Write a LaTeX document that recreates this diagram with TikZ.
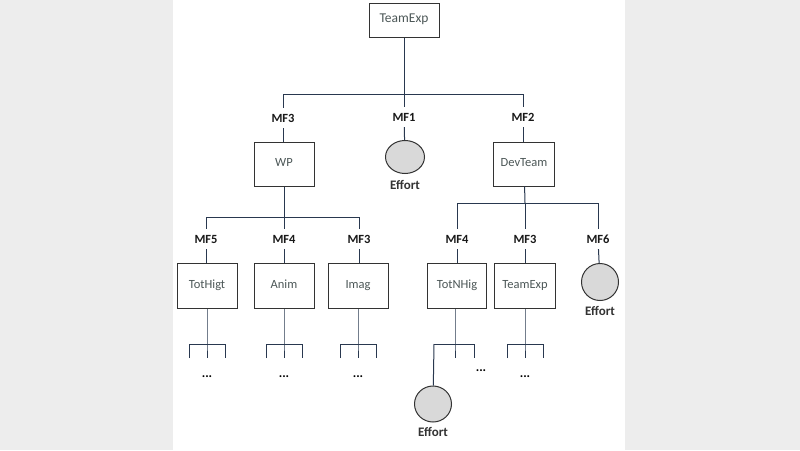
\documentclass[tikz,border=0pt]{standalone}
\usepackage{fontspec}
\setmainfont{Carlito}
\usepackage{xcolor}
\usepackage{tikz}
\usetikzlibrary{positioning}
\usetikzlibrary{shapes.geometric}
\definecolor{trait}{rgb}{0.16,0.22,0.31}
\definecolor{bord}{rgb}{0.2,0.2,0.2}
\definecolor{texte}{rgb}{0.3,0.34,0.34}
\definecolor{gris}{rgb}{0.85,0.85,0.85}
\definecolor{fond}{rgb}{0.93,0.93,0.93}

\begin{document}
\begin{tikzpicture}[x=1pt,y=-1pt,
    boite/.style={draw=bord, line width=1pt, minimum width=60pt, minimum height=45pt, inner sep=0pt, text=texte, text height=1.6ex, text depth=0.4ex, font=\fontsize{12.5}{14}\selectfont},
    rond/.style={ellipse, draw=bord, fill=gris, line width=1pt, minimum width=37pt, minimum height=37pt, inner sep=0pt},
    mf/.style={inner sep=0pt, minimum height=20pt, text=black!90, font=\bfseries\fontsize{12.5}{14}\selectfont},
    eff/.style={inner sep=0pt, text=black!80, font=\bfseries\fontsize{13}{15}\selectfont},
    pts/.style={inner sep=0pt, font=\bfseries\fontsize{13}{15}\selectfont},
    lien/.style={draw=trait, line width=1pt}]
    % Fond
    \fill[fond] (0,0) rectangle (800,450);
    \fill[white] (173,0) rectangle (625,450);
    \useasboundingbox (0,0) rectangle (800,450);

    % Niveau 1
    \node[boite, minimum width=70pt, minimum height=34pt, font=\fontsize{13.5}{15}\selectfont] (teamexp) at (404,20) {TeamExp};
    \coordinate (B1) at (404,94);
    \coordinate (B1g) at (283,94);
    \coordinate (B1d) at (523,94);

    % Etiquettes MF du niveau 2
    \node[mf] (mf3a) at (283,118) {MF3};
    \node[mf] (mf1) at (404,117) {MF1};
    \node[mf] (mf2) at (523,117) {MF2};

    % Niveau 2
    \node[boite, minimum height=44pt] (wp) at (284,164) {WP};
    \node[rond, minimum width=39pt, minimum height=33pt] (eff1) at (405,157) {};
    \node[eff, below=6pt of eff1] (leff1) {Effort};
    \node[boite, minimum width=61pt, minimum height=44pt] (devteam) at (524,164) {DevTeam};

    \draw[lien] (teamexp) -- (mf1);
    \draw[lien] (B1g) -- (B1d);
    \draw[lien] (B1g) -- (mf3a);
    \draw[lien] (B1d) -- (mf2);
    \draw[lien] (mf3a) -- (mf3a |- wp.north);
    \draw[lien] (mf1) -- (eff1);
    \draw[lien] (mf2) -- (mf2 |- devteam.north);

    % Sous WP
    \coordinate (B2) at (284,217);
    \coordinate (B2g) at (206,217);
    \coordinate (B2d) at (359,217);
    \node[mf] (mf5) at (206,239) {MF5};
    \node[mf] (mf4a) at (284,239) {MF4};
    \node[mf] (mf3b) at (359,239) {MF3};
    \node[boite] (tothigt) at (207,286) {TotHigt};
    \node[boite] (anim) at (284,286) {Anim};
    \node[boite] (imag) at (358,286) {Imag};
    \draw[lien] (wp) -- (B2);
    \draw[lien] (B2g) -- (B2d);
    \foreach \m/\b in {mf5/tothigt, mf4a/anim, mf3b/imag} {
        \draw[lien] (\m |- B2) -- (\m);
        \draw[lien] (\m) -- (\m |- \b.north);
    }

    % Sous DevTeam
    \coordinate (B3) at (525,203);
    \coordinate (B3g) at (457,203);
    \coordinate (B3d) at (598,203);
    \node[mf] (mf4b) at (457,239) {MF4};
    \node[mf] (mf3c) at (525,239) {MF3};
    \node[mf] (mf6) at (598,239) {MF6};
    \node[boite, minimum width=59pt] (totnhig) at (457,286) {TotNHig};
    \node[boite, minimum width=61pt] (teamexpb) at (525,286) {TeamExp};
    \node[rond] (eff2) at (600,282) {};
    \node[eff, below=5pt of eff2] (leff2) {Effort};
    \draw[lien] (devteam) -- (B3);
    \draw[lien] (B3g) -- (B3d);
    \foreach \m/\b in {mf4b/totnhig, mf3c/teamexpb} {
        \draw[lien] (\m |- B3) -- (\m);
        \draw[lien] (\m) -- (\m |- \b.north);
    }
    \draw[lien] (mf6 |- B3) -- (mf6);
    \draw[lien] (mf6) -- (eff2);

    % Fourches
    \foreach \b in {tothigt, anim, imag, teamexpb} {
        \coordinate[below=35pt of \b.south] (\b-j);
        \draw[lien] (\b.south) -- (\b-j) -- ++(0,14);
        \draw[lien] (\b-j) ++(-18,14) -- ++(0,-14) -- ++(36,0) -- ++(0,14);
        \node[pts, below=31pt of \b-j] (\b-pts) {...};
    }

    % Fourche de TotNHig
    \coordinate (tn-j) at (455,344);
    \coordinate (tn-g) at (434,344);
    \coordinate (tn-d) at (474,344);
    \node[rond, minimum width=37pt, minimum height=36pt] (eff3) at (433,404) {};
    \node[eff, below=5pt of eff3] (leff3) {Effort};
    \node[pts] (tn-pts) at (481,371) {...};
    \draw[lien] (totnhig.south -| tn-j) -- (tn-j) -- ++(0,14);
    \draw[lien] (tn-g) -- (tn-d) -- ++(0,14);
    \draw[lien] (tn-g) -- (eff3);
\end{tikzpicture}
\end{document}
